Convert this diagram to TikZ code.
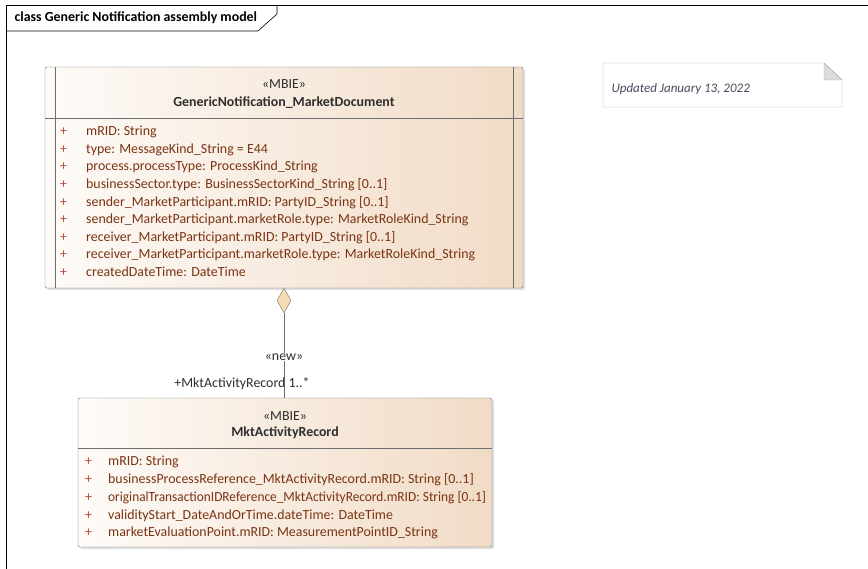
\documentclass[tikz,border=0pt]{standalone}
\usepackage{fontspec}
\setmainfont{Carlito}
\usetikzlibrary{shapes.geometric,shadows}

\definecolor{clsLeft}{HTML}{FEFBF8}
\definecolor{clsRight}{HTML}{F1DBC6}
\definecolor{clsBorder}{HTML}{6E6E6E}
\definecolor{hdrText}{HTML}{2E2E2E}
\definecolor{attrText}{HTML}{7A3312}
\definecolor{plusText}{HTML}{B8483C}
\definecolor{aggFill}{HTML}{F6DCB2}
\definecolor{noteBorder}{HTML}{A6A6A6}
\definecolor{noteFold}{HTML}{DCDCDC}
\definecolor{noteText}{HTML}{4A4A5C}

\newcommand{\umlpub}[1]{\makebox[#1][l]{\textcolor{plusText}{+}}}

\tikzset{
  clsbox/.style={draw=clsBorder, rounded corners=2pt, left color=clsLeft, right color=clsRight,
    drop shadow={shadow xshift=2pt, shadow yshift=-2pt, opacity=0.25}, inner sep=0pt},
  stereo/.style={font=\fontsize{13.9}{16}\selectfont, text=hdrText},
  clsname/.style={font=\bfseries\fontsize{13.9}{16}\selectfont, text=hdrText},
  attr/.style={anchor=west, inner sep=0pt, font=\fontsize{13.9}{16}\selectfont, text=attrText,
    text height=10pt, text depth=3.5pt},
  lbl/.style={font=\fontsize{13.9}{16}\selectfont, text=hdrText, inner sep=1pt},
}

\begin{document}
\begin{tikzpicture}[x=1pt,y=-1pt]
\useasboundingbox (0,0) rectangle (868,569);
% frame
\draw[black, line width=0.8pt] (6,569) -- (6,5) -- (868,5);
\draw[black, line width=0.6pt] (6,31) -- (258,31) -- (277,14) -- (277,5);
\node[anchor=west, font=\bfseries\fontsize{13.9}{16}\selectfont] (title) at (11,18) {class Generic Notification assembly model};

% GenericNotification_MarketDocument
\node[clsbox, minimum width=478, minimum height=221] (gnmd) at (284,177.5) {};
\draw[clsBorder] (55,67) -- (55,288);
\draw[clsBorder] (513,67) -- (513,288);
\draw[clsBorder] (45,118) -- (523,118);
\node[stereo] (gnmdst) at (284,84) {«MBIE»};
\node[clsname] (gnmdname) at (284,102.5) {GenericNotification\_MarketDocument};
\node[attr] (gnmda1) at (60,132.5) {\umlpub{26pt}mRID: String};
\node[attr] (gnmda2) at (60,150.1) {\umlpub{26pt}type: MessageKind\_String = E44};
\node[attr] (gnmda3) at (60,167.7) {\umlpub{26pt}process.processType: ProcessKind\_String};
\node[attr] (gnmda4) at (60,185.3) {\umlpub{26pt}businessSector.type: BusinessSectorKind\_String [0..1]};
\node[attr] (gnmda5) at (60,202.9) {\umlpub{26pt}sender\_MarketParticipant.mRID: PartyID\_String [0..1]};
\node[attr] (gnmda6) at (60,220.5) {\umlpub{26pt}sender\_MarketParticipant.marketRole.type: MarketRoleKind\_String};
\node[attr] (gnmda7) at (60,238.1) {\umlpub{26pt}receiver\_MarketParticipant.mRID: PartyID\_String [0..1]};
\node[attr] (gnmda8) at (60,255.7) {\umlpub{26pt}receiver\_MarketParticipant.marketRole.type: MarketRoleKind\_String};
\node[attr] (gnmda9) at (60,273.3) {\umlpub{26pt}createdDateTime: DateTime};

% MktActivityRecord
\node[clsbox, minimum width=414, minimum height=149] (mar) at (285,472.5) {};
\draw[clsBorder] (78,448) -- (492,448);
\node[stereo] (marst) at (285,416) {«MBIE»};
\node[clsname] (marname) at (285,432.5) {MktActivityRecord};
\node[attr] (mara1) at (85,462.5) {\umlpub{23pt}mRID: String};
\node[attr] (mara2) at (85,480.25) {\umlpub{23pt}businessProcessReference\_MktActivityRecord.mRID: String [0..1]};
\node[attr] (mara3) at (85,498) {\umlpub{23pt}\scalebox{0.96}[1]{originalTransactionIDReference\_MktActivityRecord.mRID: String [0..1]}};
\node[attr] (mara4) at (85,515.75) {\umlpub{23pt}validityStart\_DateAndOrTime.dateTime: DateTime};
\node[attr] (mara5) at (85,533.5) {\umlpub{23pt}marketEvaluationPoint.mRID: MeasurementPointID\_String};

% aggregation
\node[diamond, draw=clsBorder, fill=aggFill, inner sep=0pt, minimum width=14, minimum height=25] (agg) at (284,300.5) {};
\draw[clsBorder, line width=0.7pt] (agg.south) -- (agg.south |- mar.north);
\node[lbl, fill=white] (newlbl) at (284,357) {«new»};
\node[lbl] (rolelbl) at (242,384) {+MktActivityRecord 1..*};

% note
\draw[noteBorder] (603,63) -- (824,63) -- (842,80) -- (842,107) -- (603,107) -- cycle;
\draw[noteBorder, fill=noteFold] (824,63) -- (824,80) -- (842,80) -- cycle;
\node[anchor=west, font=\itshape\fontsize{13}{15}\selectfont, text=noteText] (notetext) at (608,89) {Updated January 13, 2022};
\end{tikzpicture}
\end{document}
